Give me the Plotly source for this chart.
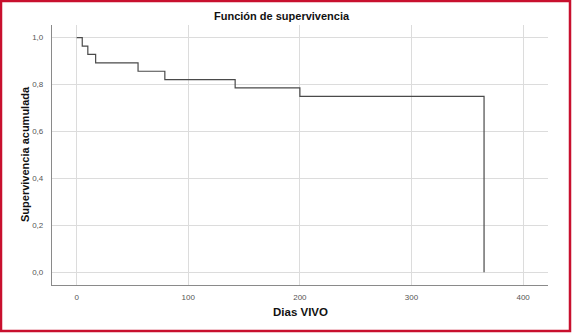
import plotly.graph_objects as go

# Kaplan-Meier step data (n=28)
times = [0, 5, 10, 17, 55, 79, 142, 200, 365]
survival = [1.0, 0.964, 0.929, 0.893, 0.857, 0.821, 0.786, 0.75, 0.0]

x_ticks = [0, 100, 200, 300, 400]
y_ticks = [0.0, 0.2, 0.4, 0.6, 0.8, 1.0]

title_text = "Función de supervivencia"
x_title = "Dias VIVO"
y_title = "Supervivencia acumulada"

W, H = 572, 333
L, R, T, B = 52, 24, 25, 48
pw, ph = W - L - R, H - T - B

def px_x(px):
    return (px - L) / pw

def px_y(py):
    return (H - B - py) / ph

fig = go.Figure()
fig.add_trace(go.Scatter(
    x=times, y=survival, mode="lines", line_shape="hv",
    line=dict(color="#4a4a4a", width=1.2), hoverinfo="skip", showlegend=False,
))

font_main = "Liberation Sans, Arial, sans-serif"

fig.update_layout(
    width=W, height=H,
    margin=dict(l=L, r=R, t=T, b=B),
    paper_bgcolor="white", plot_bgcolor="white",
    separators=",.",
    font=dict(family=font_main, color="#333"),
    showlegend=False,
    xaxis=dict(
        range=[-22.1, 422.3], tickvals=x_ticks, showgrid=True, gridcolor="#dcdcdc",
        gridwidth=1.3, zeroline=False, showline=True, linecolor="#8a8a8a", linewidth=1.3,
        ticks="", tickfont=dict(size=8, color="#555"), ticklabelstandoff=4,
    ),
    yaxis=dict(
        range=[-0.054, 1.054], tickvals=y_ticks, tickformat=".1f", showgrid=True,
        gridcolor="#dcdcdc", gridwidth=1.3, zeroline=False, showline=True,
        linecolor="#8a8a8a", linewidth=1.3, ticks="", tickfont=dict(size=8, color="#555"),
        ticklabelstandoff=6,
    ),
    annotations=[
        dict(text="<b>" + title_text + "</b>", xref="paper", yref="paper",
             x=px_x(282), y=px_y(16), xanchor="center", yanchor="middle",
             showarrow=False, font=dict(size=11, color="#111", family=font_main)),
        dict(text="<b>" + x_title + "</b>", xref="paper", yref="paper",
             x=px_x(300), y=px_y(311.5), xanchor="center", yanchor="middle",
             showarrow=False, font=dict(size=11.5, color="#111", family=font_main)),
        dict(text="<b>" + y_title + "</b>", xref="paper", yref="paper",
             x=px_x(25), y=px_y(154), xanchor="center", yanchor="middle",
             textangle=-90, showarrow=False,
             font=dict(size=11, color="#111", family=font_main)),
    ],
    shapes=[
        dict(type="rect", xref="paper", yref="paper",
             x0=px_x(1), x1=px_x(570), y0=px_y(331), y1=px_y(1),
             line=dict(color="#c8102e", width=2.5), fillcolor="rgba(0,0,0,0)",
             layer="above"),
    ],
)

fig.write_html("out.html")
